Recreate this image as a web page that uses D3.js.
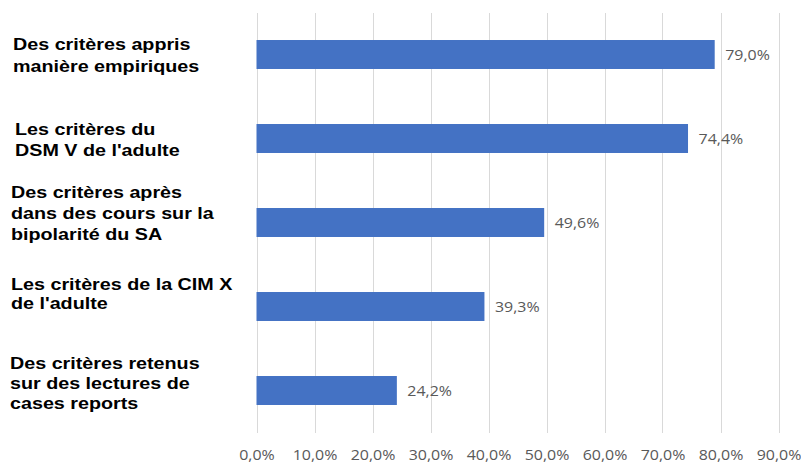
<!DOCTYPE html>
<html>
<head>
<meta charset="utf-8">
<script src="https://cdn.jsdelivr.net/npm/d3@7/dist/d3.min.js"></script>
<style>
  html, body { margin: 0; padding: 0; background: #ffffff; }
  svg { display: block; }
</style>
</head>
<body>
<svg id="chart" width="801" height="463"></svg>
<script>
// Category labels, each split into its display lines
const categories = [
  ["Des critères appris", "manière empiriques"],
  ["Les critères du", "DSM V de l'adulte"],
  ["Des critères après", "dans des cours sur la", "bipolarité du SA"],
  ["Les critères de la CIM X", "de l'adulte"],
  ["Des critères retenus", "sur des lectures de", "cases reports"]
];
// Share of respondents (fraction)
const values = [0.790, 0.744, 0.496, 0.393, 0.242];
// Axis ticks
const tickValues = [0, 0.1, 0.2, 0.3, 0.4, 0.5, 0.6, 0.7, 0.8, 0.9];

// Hand placement of each label block: left x, first baseline relative to bar centre, line spacing
const labelLayout = [
  { x: 13, dy: -4.5, lh: 22 },
  { x: 15, dy: -3.5, lh: 21 },
  { x: 11, dy: -24.5, lh: 21 },
  { x: 11, dy: -16.5, lh: 19.5 },
  { x: 10, dy: -21.5, lh: 20 }
];

const svg = d3.select("#chart");
const fmt = v => (v * 100).toFixed(1).replace(".", ",") + "%";
const stretch = 1.14;

const x = d3.scaleLinear().domain([0, 0.9]).range([256.5, 778.5]);
const y = d3.scaleBand()
  .domain(d3.range(categories.length))
  .range([12.5, 432.5])
  .paddingInner(0.655)
  .paddingOuter(0.3275);

// Vertical gridlines
svg.append("g")
  .selectAll("line")
  .data(tickValues)
  .join("line")
  .attr("x1", d => Math.round(x(d)) + 0.5)
  .attr("x2", d => Math.round(x(d)) + 0.5)
  .attr("y1", 13)
  .attr("y2", 433)
  .attr("stroke", "#d9d9d9")
  .attr("stroke-width", 1);

// Bars
svg.append("g")
  .selectAll("rect")
  .data(values)
  .join("rect")
  .attr("x", x(0))
  .attr("y", (d, i) => y(i))
  .attr("width", d => x(d) - x(0))
  .attr("height", y.bandwidth())
  .attr("fill", "#4472c4");

// Value labels
svg.append("g")
  .selectAll("text")
  .data(values)
  .join("text")
  .attr("transform", (d, i) => `translate(${x(d) + 10.5},${y(i) + y.bandwidth() / 2 + 5}) scale(${stretch},1)`)
  .attr("font-family", "'Open Sans', sans-serif")
  .attr("font-size", 14)
  .attr("fill", "#595959")
  .text(d => fmt(d));

// X axis tick labels, centred under each gridline
const xAxis = d3.axisBottom(x).tickValues(tickValues).tickSize(0).tickFormat(fmt);
const axisG = svg.append("g").attr("transform", "translate(0,446)").call(xAxis);
axisG.select(".domain").remove();
axisG.selectAll("text")
  .attr("font-family", "'Open Sans', sans-serif")
  .attr("font-size", 14)
  .attr("fill", "#595959")
  .attr("text-anchor", "middle")
  .attr("dy", 0)
  .attr("x", 0)
  .attr("y", 14)
  .attr("transform", `scale(${stretch},1)`);

// Category labels
const catG = svg.append("g")
  .selectAll("g")
  .data(categories)
  .join("g")
  .attr("transform", (d, i) => `translate(${labelLayout[i].x},${y(i) + y.bandwidth() / 2 + labelLayout[i].dy}) scale(${stretch},1)`);
catG.each(function(lines, i) {
  d3.select(this).selectAll("text")
    .data(lines)
    .join("text")
    .attr("x", 0)
    .attr("y", (d, k) => k * labelLayout[i].lh)
    .attr("font-family", "'Liberation Sans', Arial, sans-serif")
    .attr("font-weight", "bold")
    .attr("font-size", 17.3)
    .attr("fill", "#000000")
    .text(d => d);
});
</script>
</body>
</html>
